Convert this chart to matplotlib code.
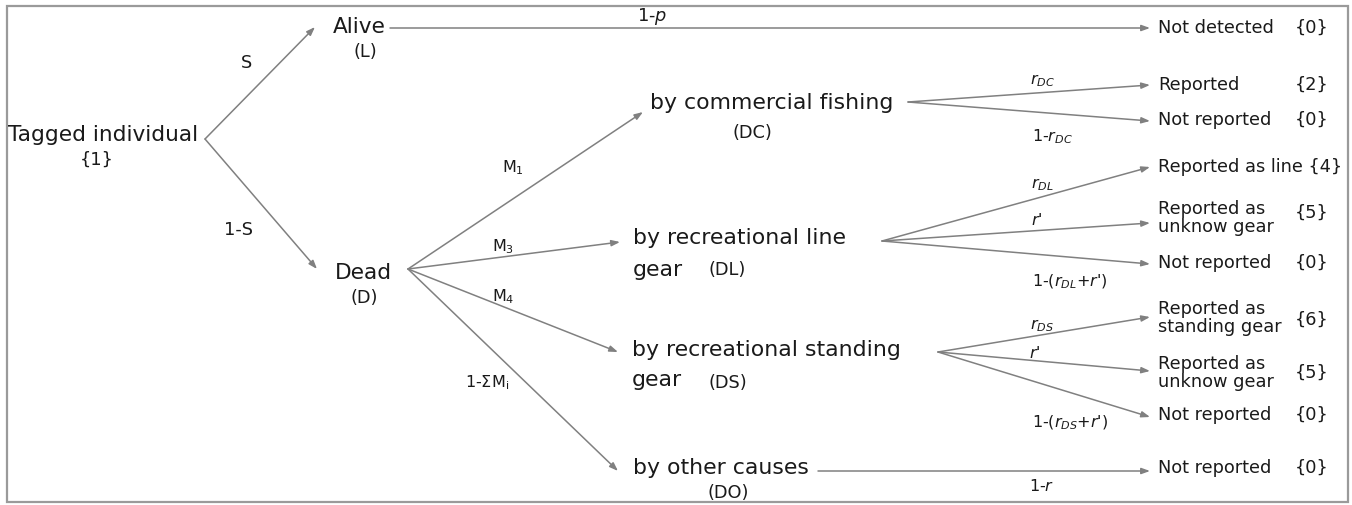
#!/usr/bin/env python3
"""Tree diagram of the fate of a tagged individual (tag-return model)."""
import matplotlib
matplotlib.use("Agg")
import matplotlib.pyplot as plt
from matplotlib.patches import Rectangle

plt.rcParams["font.family"] = ["DejaVu Sans"]
plt.rcParams["mathtext.fontset"] = "dejavusans"

# --- diagram content -------------------------------------------------------
root_label = "Tagged individual"
root_code = "{1}"

first_labels = ["Alive", "Dead"]
first_codes = ["(L)", "(D)"]
first_probs = ["S", "1-S"]

dead_labels = [
    "by commercial fishing",
    "by recreational line",
    "by recreational standing",
    "by other causes",
]
dead_second_lines = ["", "gear", "gear", ""]
dead_codes = ["(DC)", "(DL)", "(DS)", "(DO)"]
dead_probs = [r"M$_1$", r"M$_3$", r"M$_4$", r"1-ΣM$_\mathregular{i}$"]

alive_outcome = "Not detected"
alive_outcome_code = "{0}"
alive_prob = r"1-$p$"

# outcomes per dead branch: (label, code, probability)
dc_outcomes = [("Reported", "{2}", r"$r_{DC}$"),
               ("Not reported", "{0}", r"1-$r_{DC}$")]
dl_outcomes = [("Reported as line {4}", "", r"$r_{DL}$"),
               ("Reported as\nunknow gear", "{5}", r"$r$'"),
               ("Not reported", "{0}", r"1-($r_{DL}$+$r$')")]
ds_outcomes = [("Reported as\nstanding gear", "{6}", r"$r_{DS}$"),
               ("Reported as\nunknow gear", "{5}", r"$r$'"),
               ("Not reported", "{0}", r"1-($r_{DS}$+$r$')")]
do_outcomes = [("Not reported", "{0}", r"1-$r$")]

# --- layout (pixel coordinates, y downwards) -------------------------------
ROOT_XY = (205, 140)
FIRST_TIPS = [(315, 28), (317, 270)]
FIRST_TEXT = [(333, 27), (335, 273)]
FIRST_CODE_XY = [(365, 52), (364, 298)]
FIRST_PROB_XY = [(247, 63), (238, 230)]
ALIVE_START = (390, 29)
DEAD_ORIGIN = (408, 270)

DEAD_TIPS = [(643, 113), (620, 243), (618, 353), (618, 472)]
DEAD_TEXT = [(650, 103), (633, 238), (632, 350), (633, 468)]
DEAD_GEAR_Y = [None, 270, 380, None]
DEAD_CODE_XY = [(752, 133), (727, 270), (728, 383), (728, 493)]
DEAD_PROB_XY = [(513, 168), (503, 247), (503, 297), (487, 383)]
DEAD_FAN = [(908, 103), (882, 242), (938, 353), (818, 472)]

TIP_X = 1150
TEXT_X = 1158
CODE_X = 1312
OUT_TIPS = [[86, 122], [168, 224, 265], [318, 372, 418], [472]]
OUT_TEXT_Y = [[85, 120], [167, 218, 263], [318, 373, 415], [468]]
OUT_CODE_Y = [[85, 120], [167, 213, 263], [320, 373, 415], [468]]
OUT_PROB_XY = [[(1042, 81), (1052, 137)],
               [(1042, 185), (1037, 220), (1070, 282)],
               [(1042, 326), (1035, 353), (1070, 423)],
               [(1042, 486)]]

LINE = "#808080"
TEXT = "#1a1a1a"
ROOT = 15.6
BIG = 15.8
MID = 12.8
SMALL = 11.5


def arrow(ax, start, end):
    ax.annotate(
        "",
        xy=end,
        xytext=start,
        arrowprops=dict(
            arrowstyle="-|>,head_length=0.5,head_width=0.18",
            color=LINE,
            lw=1.1,
            shrinkA=0,
            shrinkB=0,
            mutation_scale=10,
        ),
    )


def main():
    fig = plt.figure(figsize=(13.52, 5.06), dpi=100)
    ax = fig.add_axes([0, 0, 1, 1])
    ax.set_xlim(0, 1352)
    ax.set_ylim(506, 0)
    ax.axis("off")

    ax.add_patch(Rectangle((7, 7), 1341, 496, fill=False, edgecolor="#9a9a9a", lw=1.6))

    # root
    ax.text(8, 135, root_label, fontsize=ROOT, color=TEXT, ha="left", va="center")
    ax.text(97, 160, root_code, fontsize=MID, color=TEXT, ha="center", va="center")

    # alive / dead
    for i in range(2):
        arrow(ax, ROOT_XY, FIRST_TIPS[i])
        ax.text(*FIRST_TEXT[i], first_labels[i], fontsize=ROOT, color=TEXT, ha="left", va="center")
        ax.text(*FIRST_CODE_XY[i], first_codes[i], fontsize=MID, color=TEXT, ha="center", va="center")
        ax.text(*FIRST_PROB_XY[i], first_probs[i], fontsize=MID, color=TEXT, ha="center", va="center")

    # alive -> not detected
    arrow(ax, ALIVE_START, (TIP_X, ALIVE_START[1]))
    ax.text(TEXT_X, 28, alive_outcome, fontsize=MID, color=TEXT, ha="left", va="center")
    ax.text(CODE_X, 28, alive_outcome_code, fontsize=MID, color=TEXT, ha="center", va="center")
    ax.text(652, 16, alive_prob, fontsize=MID, color=TEXT, ha="center", va="center")

    # dead -> causes
    for i, label in enumerate(dead_labels):
        arrow(ax, DEAD_ORIGIN, DEAD_TIPS[i])
        ax.text(*DEAD_TEXT[i], label, fontsize=BIG, color=TEXT, ha="left", va="center")
        if dead_second_lines[i]:
            ax.text(DEAD_TEXT[i][0], DEAD_GEAR_Y[i], dead_second_lines[i],
                    fontsize=BIG, color=TEXT, ha="left", va="center")
        ax.text(*DEAD_CODE_XY[i], dead_codes[i], fontsize=MID, color=TEXT, ha="center", va="center")
        ax.text(*DEAD_PROB_XY[i], dead_probs[i], fontsize=SMALL, color=TEXT, ha="center", va="center")

    # causes -> reporting outcomes
    for b, outcomes in enumerate([dc_outcomes, dl_outcomes, ds_outcomes, do_outcomes]):
        for j, (label, code, prob) in enumerate(outcomes):
            arrow(ax, DEAD_FAN[b], (TIP_X, OUT_TIPS[b][j]))
            ax.text(TEXT_X, OUT_TEXT_Y[b][j], label, fontsize=MID, color=TEXT,
                    ha="left", va="center", linespacing=1.05)
            if code:
                ax.text(CODE_X, OUT_CODE_Y[b][j], code, fontsize=MID, color=TEXT,
                        ha="center", va="center")
            ax.text(*OUT_PROB_XY[b][j], prob, fontsize=SMALL, color=TEXT,
                    ha="center", va="center")

    fig.savefig("out.png", dpi=100)
    plt.close(fig)


if __name__ == "__main__":
    main()
